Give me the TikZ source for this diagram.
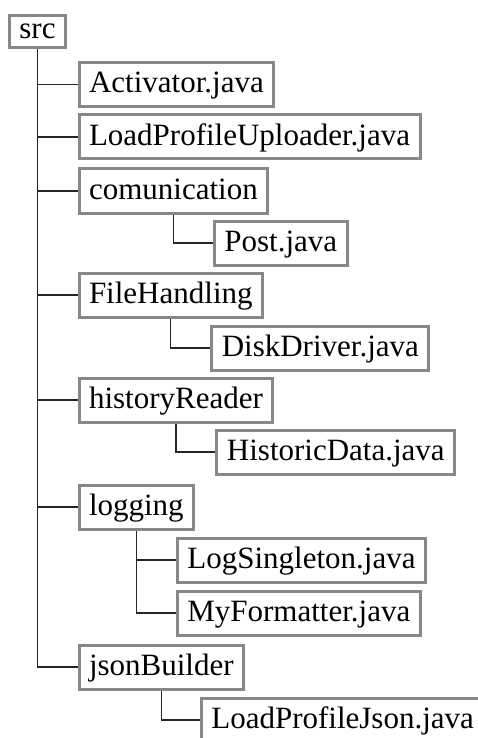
\documentclass[tikz,border=0pt]{standalone}
\usepackage{fontspec}
\setmainfont{Liberation Serif}
\usetikzlibrary{calc,backgrounds}
\definecolor{boxgray}{RGB}{136,136,136}
\begin{document}
\begin{tikzpicture}[x=1pt,y=-1pt,
  fbox/.style={draw=boxgray, line width=3pt, fill=white, anchor=west,
    inner xsep=10pt, inner ysep=0pt, minimum height=44pt,
    text height=22.5pt, text depth=5.5pt, font=\fontsize{31}{36}\selectfont},
  conn/.style={line width=1.2pt, draw=black!85}]
\useasboundingbox (0,0) rectangle (478,738);
% root
\node[fbox, anchor=center, minimum height=32pt, text height=14pt, text depth=0pt] (src) at (37.5,31.5) {src};
% level 1
\node[fbox] (act)  at (77.5,84.5) {Activator.java};
\node[fbox] (lpu)  at (77.5,137)  {LoadProfileUploader.java};
\node[fbox] (com)  at (77.5,191)  {comunication};
\node[fbox] (post) at ($(com.south |- 0,243)+(39.5,0)$) {Post.java};
\node[fbox] (file) at (77.5,295)  {FileHandling};
\node[fbox] (disk) at ($(file.south |- 0,348)+(39.5,0)$) {DiskDriver.java};
\node[fbox] (hist) at (77.5,400)  {historyReader};
\node[fbox] (hd)   at ($(hist.south |- 0,452)+(39.5,0)$) {HistoricData.java};
\node[fbox] (log)  at (77.5,507)  {logging};
\node[fbox] (ls)   at ($(log.south |- 0,560)+(39.5,0)$) {LogSingleton.java};
\node[fbox] (mf)   at ($(log.south |- 0,613)+(39.5,0)$) {MyFormatter.java};
\node[fbox] (json) at (77.5,667)  {jsonBuilder};
\node[fbox] (lpj)  at ($(json.south |- 0,720)+(38.5,0)$) {LoadProfileJson.java};
% connectors
\begin{scope}[on background layer]
\draw[conn] (src.south) |- (act.west);
\draw[conn] (src.south) |- (lpu.west);
\draw[conn] (src.south) |- (com.west);
\draw[conn] (src.south) |- (file.west);
\draw[conn] (src.south) |- (hist.west);
\draw[conn] (src.south) |- (log.west);
\draw[conn] (src.south) |- (json.west);
\draw[conn] (com.south) |- (post.west);
\draw[conn] (file.south) |- (disk.west);
\draw[conn] (hist.south) |- (hd.west);
\draw[conn] (log.south) |- (ls.west);
\draw[conn] (log.south) |- (mf.west);
\draw[conn] (json.south) |- (lpj.west);
\end{scope}
\end{tikzpicture}
\end{document}
